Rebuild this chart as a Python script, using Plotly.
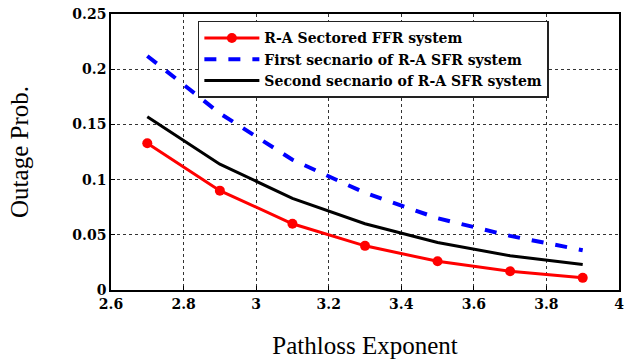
import plotly.graph_objects as go

x_vals = [2.7, 2.9, 3.1, 3.3, 3.5, 3.7, 3.9]
ffr_sectored = [0.133, 0.090, 0.060, 0.040, 0.026, 0.017, 0.011]
sfr_first = [0.212, 0.160, 0.118, 0.088, 0.065, 0.049, 0.036]
sfr_second = [0.157, 0.114, 0.083, 0.060, 0.043, 0.031, 0.023]

x_ticks = [2.6, 2.8, 3.0, 3.2, 3.4, 3.6, 3.8, 4.0]
x_tick_text = ["2.6", "2.8", "3", "3.2", "3.4", "3.6", "3.8", "4"]
y_ticks = [0, 0.05, 0.1, 0.15, 0.2, 0.25]
y_tick_text = ["0", "0.05", "0.1", "0.15", "0.2", "0.25"]

fig = go.Figure()
fig.add_trace(go.Scatter(x=x_vals, y=ffr_sectored, mode="lines+markers",
                         name="R-A Sectored FFR system",
                         line=dict(color="#ff0000", width=3),
                         marker=dict(symbol="circle", size=10, color="#ff0000")))
fig.add_trace(go.Scatter(x=x_vals, y=sfr_first, mode="lines",
                         name="First secnario of R-A SFR system",
                         line=dict(color="#0000ff", width=4, dash="dash")))
fig.add_trace(go.Scatter(x=x_vals, y=sfr_second, mode="lines",
                         name="Second secnario of R-A SFR system",
                         line=dict(color="#000000", width=3)))

serif_bold = dict(family="DejaVu Serif", size=14, color="black", weight="bold")
fig.update_layout(
    width=629, height=360,
    margin=dict(l=111, r=10, t=14, b=70),
    paper_bgcolor="white", plot_bgcolor="white",
    showlegend=True,
    legend=dict(x=0.171, y=0.975, xanchor="left", yanchor="top",
                bgcolor="white", bordercolor="#222222", borderwidth=1.5,
                font=dict(family="DejaVu Serif", size=14, color="black", weight="bold"),
                tracegroupgap=0, itemwidth=55),
    font=dict(family="Liberation Serif", color="black"),
)
fig.update_xaxes(range=[2.6, 4.0], tickvals=x_ticks, ticktext=x_tick_text,
                 tickfont=serif_bold, automargin=False,
                 showgrid=True, gridcolor="#333333", griddash="dot", gridwidth=1,
                 showline=True, linecolor="black", linewidth=1.5, mirror=True,
                 ticks="inside", ticklen=4, tickcolor="black",
                 zeroline=False,
                 title=dict(text="Pathloss Exponent",
                            font=dict(family="Liberation Serif", size=25, color="black"),
                            standoff=26))
fig.update_yaxes(range=[0, 0.25], tickvals=y_ticks, ticktext=y_tick_text,
                 tickfont=serif_bold, automargin=False,
                 showgrid=True, gridcolor="#333333", griddash="dot", gridwidth=1,
                 showline=True, linecolor="black", linewidth=1.5, mirror=True,
                 ticks="inside", ticklen=4, tickcolor="black",
                 zeroline=False,
                 title=dict(text="Outage Prob.",
                            font=dict(family="Liberation Serif", size=25, color="black"),
                            standoff=37))

fig.write_html("out.html", config={"displayModeBar": False},
               post_script="document.body.style.margin='0';")
